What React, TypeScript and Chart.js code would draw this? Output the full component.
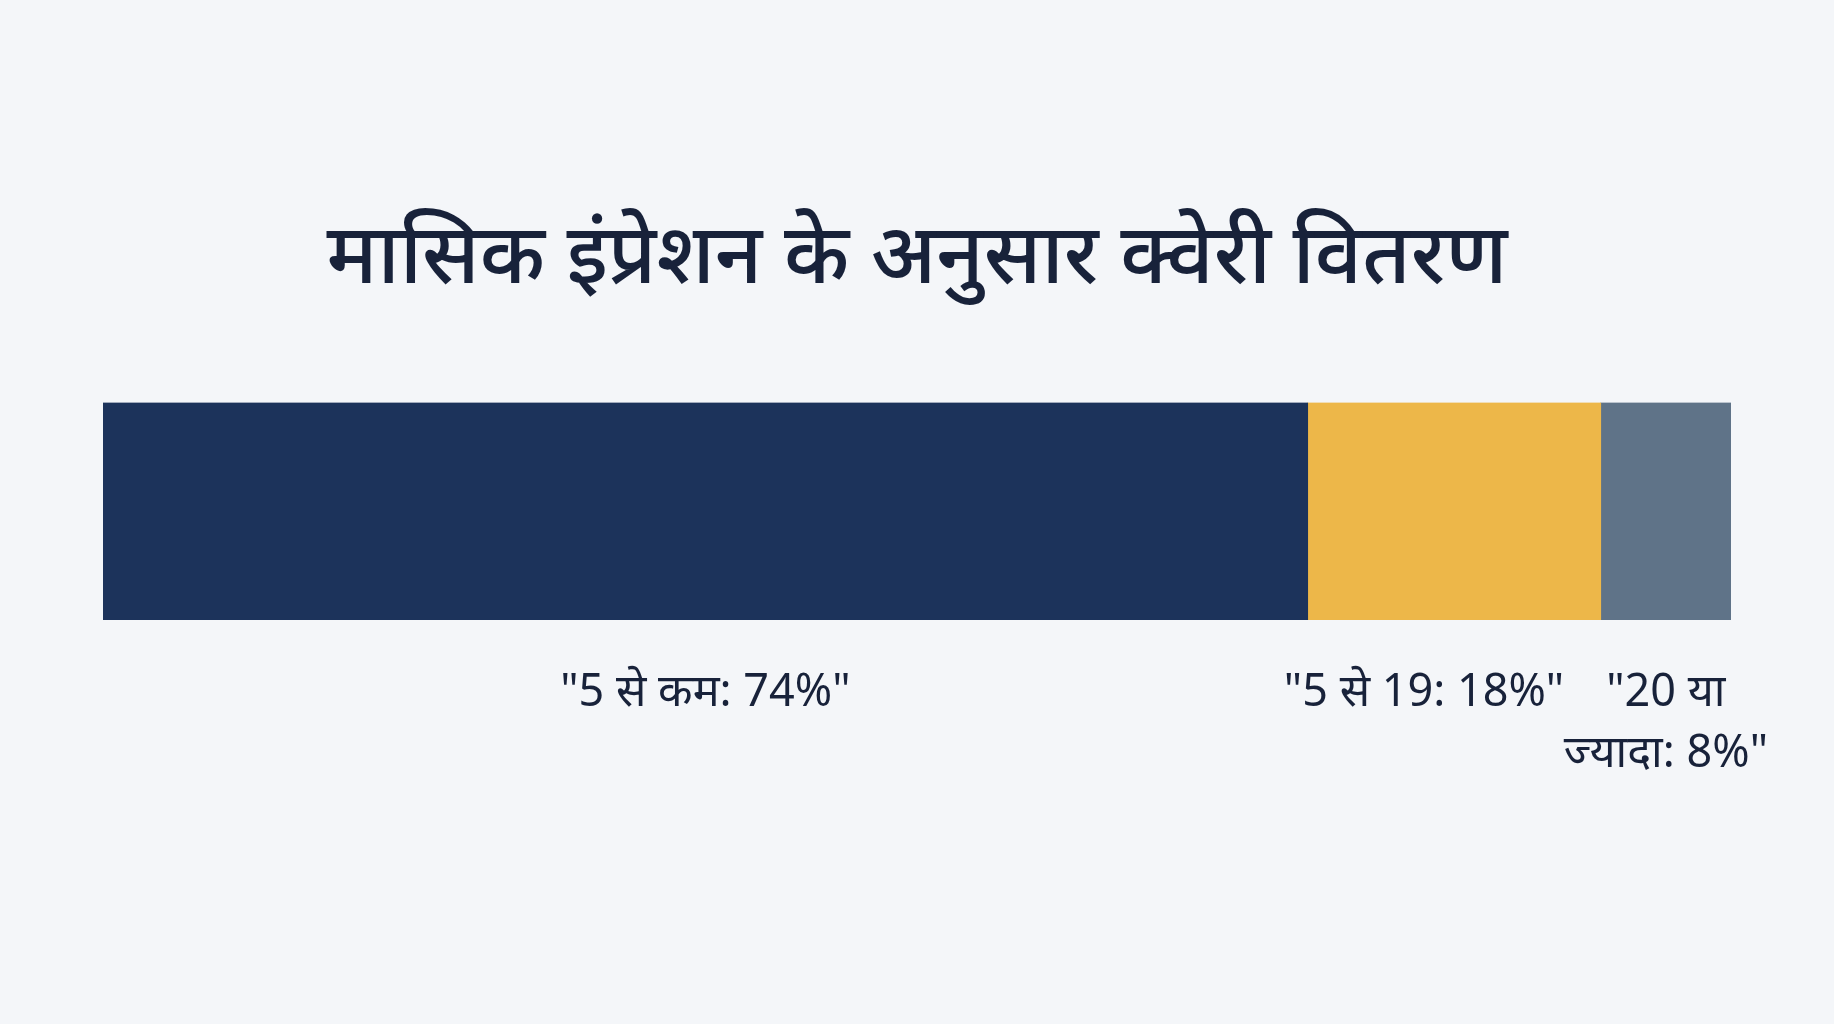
import { useEffect, useRef } from 'react';
import { Chart, registerables, type Plugin } from 'chart.js';

Chart.register(...registerables);

const TITLE = 'मासिक इंप्रेशन के अनुसार क्वेरी वितरण';
const SEGMENTS = ['5 से कम', '5 से 19', '20 या ज्यादा'];
const SHARES = [74, 18, 8];
// how each label wraps under its segment
const LABEL_LINES = [
  ['"5 से कम: 74%"'],
  ['"5 से 19: 18%"'],
  ['"20 या', 'ज्यादा: 8%"'],
];
const COLORS = ['#1c335b', '#edb749', '#5f7388'];

const FONT = '"Noto Sans", "Noto Sans Devanagari", sans-serif';
const INK = '#18223a';

const segmentLabels: Plugin<'bar'> = {
  id: 'segmentLabels',
  afterDatasetsDraw(chart) {
    const { ctx, chartArea } = chart;
    ctx.save();
    ctx.fillStyle = INK;
    ctx.font = `400 45px ${FONT}`;
    ctx.textAlign = 'center';
    ctx.textBaseline = 'alphabetic';

    const n = chart.data.datasets.length;
    const centers: number[] = [];
    const firstW: number[] = [];
    for (let i = 0; i < n; i++) {
      const el = chart.getDatasetMeta(i).data[0] as any;
      const { x, base } = el.getProps(['x', 'base'], true);
      const lines = LABEL_LINES[i];
      const w = Math.max(...lines.map(l => ctx.measureText(l).width));
      centers.push(Math.min((x + base) / 2, chartArea.right + 47 - w / 2));
      firstW.push(ctx.measureText(lines[0]).width);
    }
    // push labels leftwards when they would run into their right neighbour
    for (let i = n - 2; i >= 0; i--) {
      const limit = centers[i + 1] - firstW[i + 1] / 2 - 42;
      if (centers[i] + firstW[i] / 2 > limit) centers[i] = limit - firstW[i] / 2;
    }
    for (let i = 0; i < n; i++) {
      LABEL_LINES[i].forEach((line, j) => {
        ctx.fillText(line, centers[i], chartArea.bottom + 86 + j * 61);
      });
    }
    ctx.restore();
  },
};

export default function App() {
  const canvasRef = useRef<HTMLCanvasElement>(null);

  useEffect(() => {
    document.body.style.margin = '0';
    document.body.style.background = '#f4f6f9';
    if (!canvasRef.current) return;

    const chart = new Chart(canvasRef.current, {
      type: 'bar',
      plugins: [segmentLabels],
      data: {
        labels: ['queries'],
        datasets: SEGMENTS.map((name, i) => ({
          label: name,
          data: [SHARES[i]],
          backgroundColor: COLORS[i],
          borderWidth: 0,
          barPercentage: 1,
          categoryPercentage: 1,
        })),
      },
      options: {
        indexAxis: 'y',
        animation: false,
        responsive: false,
        maintainAspectRatio: false,
        layout: { padding: { left: 103, right: 103, top: 0, bottom: 404 } },
        scales: {
          x: { stacked: true, min: 0, max: 100, display: false },
          y: { stacked: true, display: false },
        },
        plugins: {
          legend: { display: false },
          tooltip: { enabled: false },
          title: {
            display: true,
            text: TITLE,
            color: INK,
            font: { family: FONT, size: 83, weight: 500, lineHeight: 1.2 },
            padding: { top: 210, bottom: 93 },
          },
        },
      },
    });

    return () => chart.destroy();
  }, []);

  return (
    <div style={{ width: 1834, height: 1024, background: '#f4f6f9' }}>
      <canvas ref={canvasRef} width={1834} height={1024} style={{ display: 'block' }} />
    </div>
  );
}
